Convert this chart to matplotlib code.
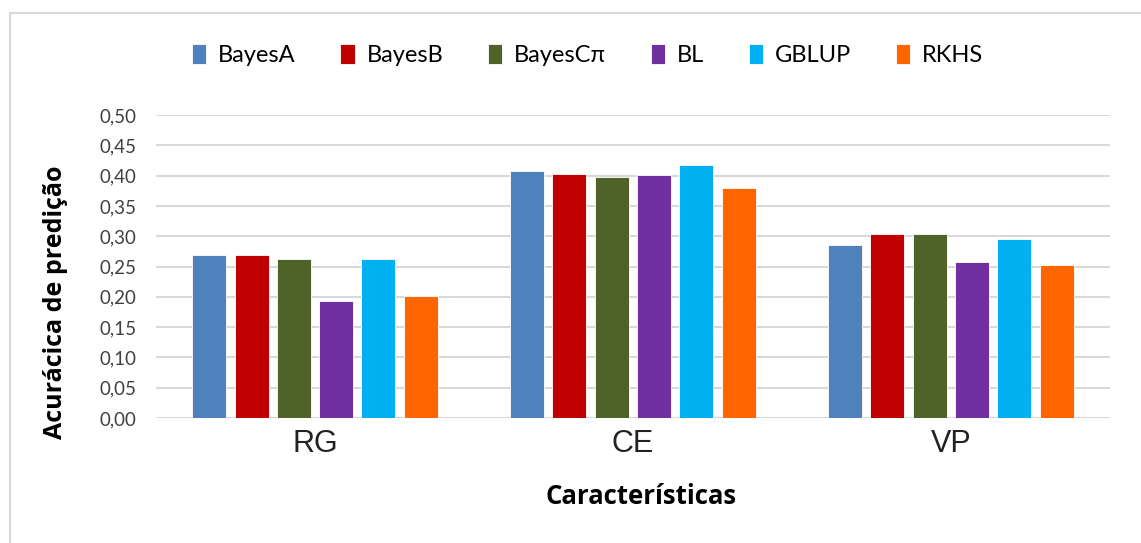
import numpy as np
import matplotlib.pyplot as plt
from matplotlib.patches import Rectangle

categorias = ["RG", "CE", "VP"]
modelos = ["BayesA", "BayesB", "BayesC\u03c0", "BL", "GBLUP", "RKHS"]
cores = ["#4F81BD", "#C00000", "#4F6228", "#7030A0", "#00B0F0", "#FF6600"]

bayes_a = [0.269, 0.407, 0.286]
bayes_b = [0.269, 0.403, 0.303]
bayes_cpi = [0.263, 0.397, 0.303]
bl = [0.193, 0.401, 0.257]
gblup = [0.263, 0.417, 0.296]
rkhs = [0.202, 0.380, 0.253]
valores = [bayes_a, bayes_b, bayes_cpi, bl, gblup, rkhs]

yticks = np.arange(0, 0.51, 0.05)

fig = plt.figure(figsize=(11.41, 5.43), dpi=100)
ax = fig.add_axes([0.1367, 0.2302, 0.836, 0.558])

x = np.arange(len(categorias))
passo = 0.133
largura = 0.107
for i, (nome, vals, cor) in enumerate(zip(modelos, valores, cores)):
    ax.bar(x + (i - 2.5) * passo, vals, largura, color=cor, label=nome,
           edgecolor="white", linewidth=0.6, zorder=3)

ax.set_xlim(-0.5, 2.5)
ax.set_ylim(0, 0.5)
ax.set_yticks(yticks)
ax.set_yticklabels([f"{v:.2f}".replace(".", ",") for v in yticks],
                   family=["Lato", "DejaVu Sans"], fontsize=13.5, color="#404040")
ax.set_xticks(x)
ax.set_xticklabels(categorias, family="Liberation Sans", fontsize=22, color="#222222")
ax.tick_params(length=0)
ax.tick_params(axis="y", pad=14)
ax.tick_params(axis="x", pad=8)
ax.grid(axis="y", color="#D9D9D9", linewidth=1.5, zorder=0)
for s in ax.spines.values():
    s.set_visible(False)

fig.text(0.049, 0.443, "Acurácica de predição", rotation=90, ha="center", va="center",
         family="Open Sans", fontweight="bold", fontsize=18)
fig.text(0.562, 0.085, "Características", ha="center", va="center",
         family="Open Sans", fontweight="bold", fontsize=18.5)

fig.legend(loc="center", bbox_to_anchor=(0.515, 1 - 55 / 543), ncol=6, frameon=False,
           handlelength=0.6, handleheight=0.9, handletextpad=0.5, columnspacing=1.9,
           prop={"family": ["Lato", "DejaVu Sans"], "size": 17})

# moldura externa
fig.patches.append(Rectangle((10 / 1141, -0.1), 1.2, 1.1 - 13 / 543,
                             transform=fig.transFigure, fill=False,
                             edgecolor="#D9D9D9", linewidth=1.5))

fig.savefig("out.png", dpi=100)
plt.close()
